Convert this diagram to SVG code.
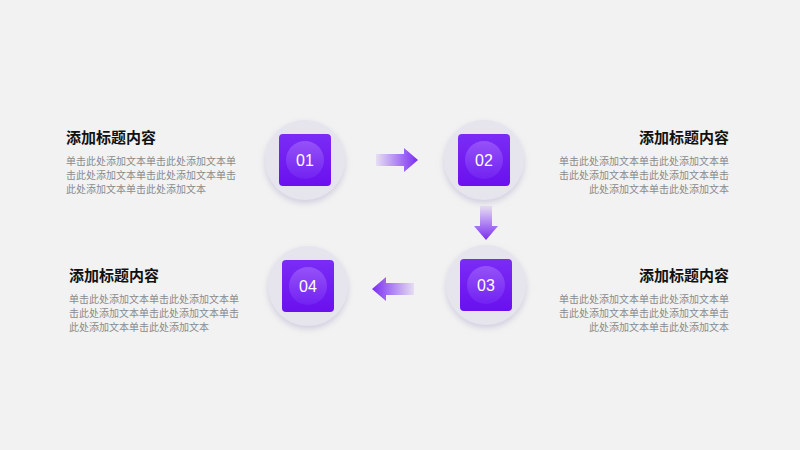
<svg xmlns="http://www.w3.org/2000/svg" width="800" height="450" viewBox="0 0 800 450">
<defs>
<linearGradient id="sq" x1="0" y1="0" x2="0" y2="1"><stop offset="0" stop-color="#7a2cf5"/><stop offset="1" stop-color="#6a10ee"/></linearGradient>
<linearGradient id="in" x1="0" y1="0" x2="0" y2="1"><stop offset="0" stop-color="#9552f8"/><stop offset="1" stop-color="#7222f2"/></linearGradient>
<linearGradient id="ar" x1="0" y1="0" x2="1" y2="0"><stop offset="0" stop-color="#7a2cf2" stop-opacity="0.1"/><stop offset="1" stop-color="#7a2cf2"/></linearGradient>
<filter id="sh" x="-30%" y="-30%" width="160%" height="160%"><feDropShadow dx="0" dy="3" stdDeviation="3" flood-color="#b8b4d0" flood-opacity="0.6"/></filter>
</defs>
<style>
.t{font-family:"Noto Sans CJK SC","Liberation Sans",sans-serif;font-size:15px;font-weight:bold;fill:#111}
.b{font-family:"Noto Sans CJK SC","Liberation Sans",sans-serif;font-size:10px;fill:#8a8a8a}
.n{font-family:"Liberation Sans",sans-serif;font-size:16px;fill:#fff;text-anchor:middle}
.c{fill:#e6e5ee;filter:url(#sh)}
</style>
<rect width="800" height="450" fill="#f2f2f2"/>
<g id="node1"><circle class="c" cx="305" cy="160" r="40"/><rect x="279" y="134" width="52" height="52" rx="4" fill="url(#sq)"/><circle cx="305" cy="160" r="19" fill="url(#in)"/><text class="n" x="305" y="166">01</text></g>
<g id="node2"><circle class="c" cx="484" cy="160" r="40"/><rect x="458" y="134" width="52" height="52" rx="4" fill="url(#sq)"/><circle cx="484" cy="160" r="19" fill="url(#in)"/><text class="n" x="484" y="166">02</text></g>
<g id="node3"><circle class="c" cx="486" cy="285" r="40"/><rect x="460" y="259" width="52" height="52" rx="4" fill="url(#sq)"/><circle cx="486" cy="285" r="19" fill="url(#in)"/><text class="n" x="486" y="291">03</text></g>
<g id="node4"><circle class="c" cx="308" cy="286" r="40"/><rect x="282" y="260" width="52" height="52" rx="4" fill="url(#sq)"/><circle cx="308" cy="286" r="19" fill="url(#in)"/><text class="n" x="308" y="292">04</text></g>
<g id="connectors">
<path d="M376 154 H404 V148 L418 160 L404 172 V166 H376 Z" fill="url(#ar)"/>
<path d="M0 -6 H20 V-12 L34 0 L20 12 V6 H0 Z" fill="url(#ar)" transform="translate(486 206) rotate(90)"/>
<path d="M0 -6 H28 V-12 L42 0 L28 12 V6 H0 Z" fill="url(#ar)" transform="translate(414 289) rotate(180)"/>
</g>
<g id="text1"><text class="t" x="66" y="143">添加标题内容</text>
<text class="b" x="66" y="165">单击此处添加文本单击此处添加文本单</text><text class="b" x="66" y="179">击此处添加文本单击此处添加文本单击</text><text class="b" x="66" y="193">此处添加文本单击此处添加文本</text></g>
<g id="text2" text-anchor="end"><text class="t" x="729" y="143">添加标题内容</text>
<text class="b" x="729" y="165">单击此处添加文本单击此处添加文本单</text><text class="b" x="729" y="179">击此处添加文本单击此处添加文本单击</text><text class="b" x="729" y="193">此处添加文本单击此处添加文本</text></g>
<g id="text3" text-anchor="end"><text class="t" x="729" y="281">添加标题内容</text>
<text class="b" x="729" y="303">单击此处添加文本单击此处添加文本单</text><text class="b" x="729" y="317">击此处添加文本单击此处添加文本单击</text><text class="b" x="729" y="331">此处添加文本单击此处添加文本</text></g>
<g id="text4"><text class="t" x="69" y="281">添加标题内容</text>
<text class="b" x="69" y="303">单击此处添加文本单击此处添加文本单</text><text class="b" x="69" y="317">击此处添加文本单击此处添加文本单击</text><text class="b" x="69" y="331">此处添加文本单击此处添加文本</text></g>
</svg>
